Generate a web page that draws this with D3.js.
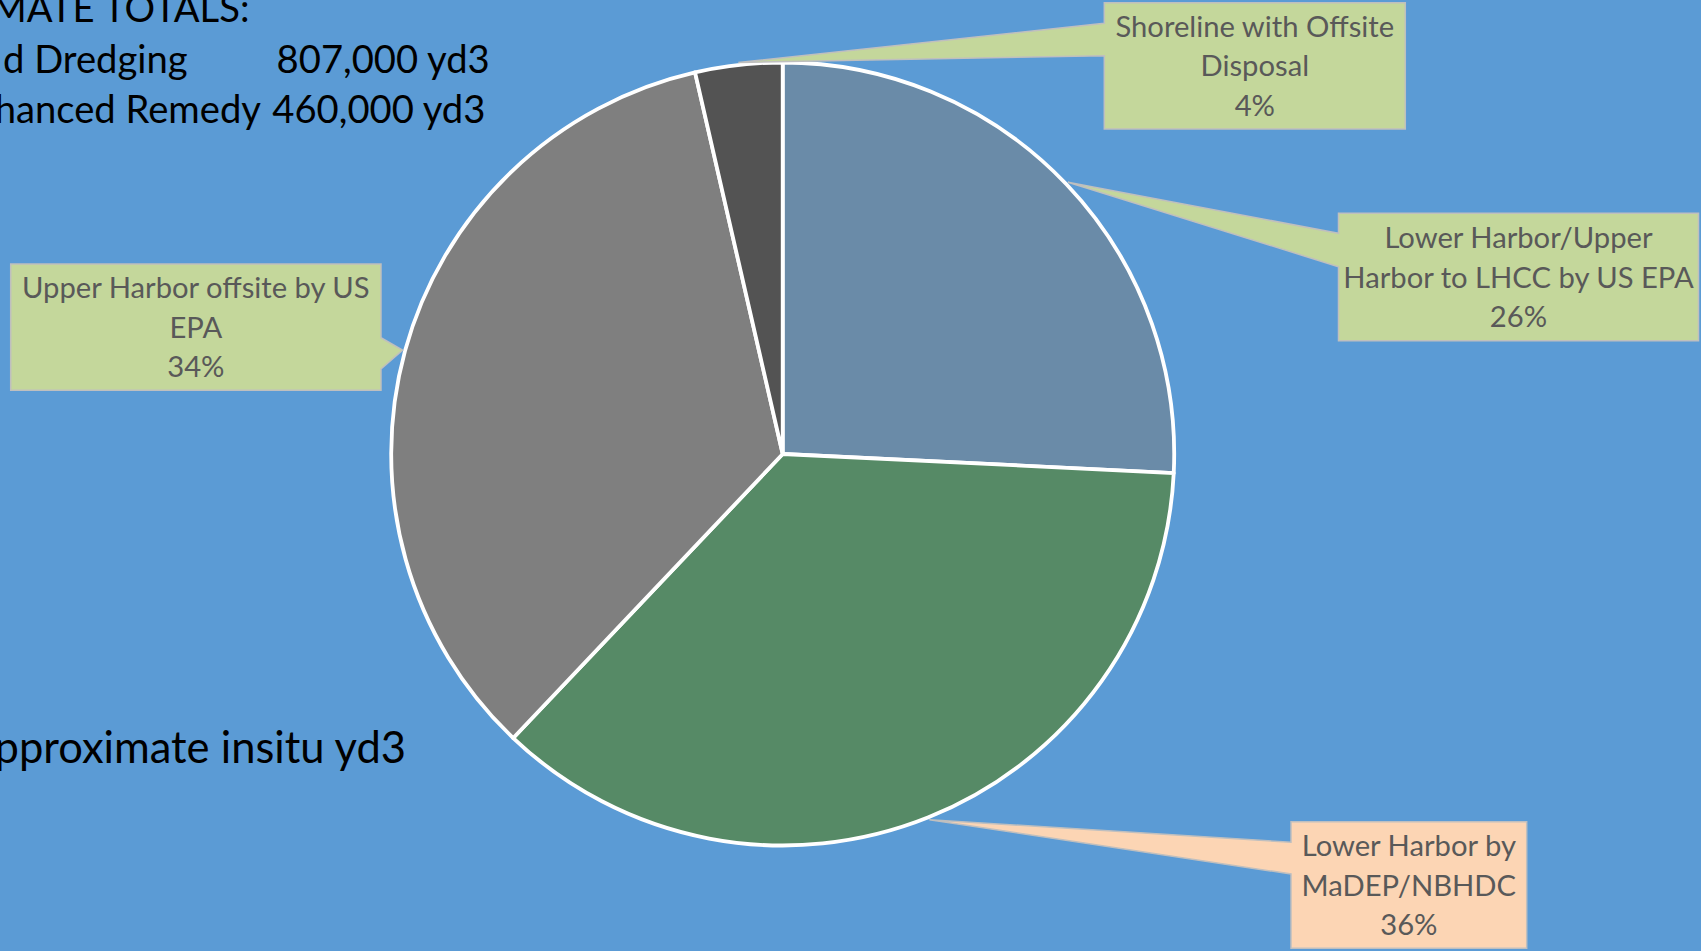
<!DOCTYPE html>
<html>
<head>
<meta charset="utf-8">
<script src="https://cdn.jsdelivr.net/npm/d3@7"></script>
<style>
  html, body { margin: 0; padding: 0; background: #5b9bd5; overflow: hidden; }
  svg { display: block; }
</style>
</head>
<body>
<svg id="chart" width="1701" height="951"></svg>
<script>
// ---------------- DATA ----------------
const categories = [
  "Lower Harbor/Upper Harbor to LHCC by US EPA",
  "Lower Harbor by MaDEP/NBHDC",
  "Upper Harbor offsite by US EPA",
  "Shoreline with Offsite Disposal"
];
const volumes = [208000, 293000, 277000, 29000];   // approximate insitu yd3
const labelLines = [
  ["Lower Harbor/Upper", "Harbor to LHCC by US EPA"],
  ["Lower Harbor by", "MaDEP/NBHDC"],
  ["Upper Harbor offsite by US", "EPA"],
  ["Shoreline with Offsite", "Disposal"]
];
const totalsHeading = "APPROXIMATE TOTALS:";
const totalsNames = ["d Dredging", "Enhanced Remedy"];
const totalsValues = ["807,000 yd3", "460,000 yd3"];
const unitNote = "Approximate insitu yd3";

// ---------------- STYLE / LAYOUT ----------------
const W = 1701, H = 951;
const cx = 782.7, cy = 454, R = 391.5;
const sliceColors = ["#6a8ba8", "#568a66", "#7f7f7f", "#535353"];
const boxFills = ["#c4d79b", "#fcd5b4", "#c4d79b", "#c4d79b"];
const boxLayout = [
  {x: 1338.5, y: 213.3, w: 360, h: 127.4, side: "left",  b0: 233.3, b1: 266.7},
  {x: 1291,   y: 821.7, w: 235.7, h: 126.6, side: "left",  b0: 842.3, b1: 874},
  {x: 10.7,   y: 264,   w: 370.3, h: 126.3, side: "right", b0: 337.7, b1: 369},
  {x: 1104.3, y: 2.7,   w: 301,   h: 126.3, side: "left",  b0: 23.3,  b1: 55.7}
];

const svg = d3.select("#chart");
svg.append("rect").attr("width", W).attr("height", H).attr("fill", "#5b9bd5");

const color = d3.scaleOrdinal().domain(categories).range(sliceColors);
const pie = d3.pie().sort(null).value(d => d.v);
const arcs = pie(categories.map((c, i) => ({c, v: volumes[i], i})));
const arc = d3.arc().innerRadius(0).outerRadius(R);
const total = d3.sum(volumes);
const pct = d3.format(".0%");

const g = svg.append("g").attr("transform", `translate(${cx},${cy})`);
g.selectAll("path.slice").data(arcs).join("path")
  .attr("class", "slice")
  .attr("d", arc)
  .attr("fill", d => color(d.data.c))
  .attr("stroke", "#ffffff")
  .attr("stroke-width", 3.8)
  .attr("stroke-linejoin", "round");

// ---------------- CALLOUT LABELS ----------------
const tipR = 394;
const callouts = svg.append("g");
arcs.forEach((d, i) => {
  const b = boxLayout[i];
  const a = (d.startAngle + d.endAngle) / 2;
  const tx = cx + tipR * Math.sin(a), ty = cy - tipR * Math.cos(a);
  const x0 = b.x, x1 = b.x + b.w, y0 = b.y, y1 = b.y + b.h;
  let p;
  if (b.side === "left") {
    p = `M${x0},${y0}L${x1},${y0}L${x1},${y1}L${x0},${y1}L${x0},${b.b1}L${tx},${ty}L${x0},${b.b0}Z`;
  } else {
    p = `M${x0},${y0}L${x1},${y0}L${x1},${b.b0}L${tx},${ty}L${x1},${b.b1}L${x1},${y1}L${x0},${y1}Z`;
  }
  callouts.append("path").attr("d", p)
    .attr("fill", boxFills[i]).attr("stroke", "#bfbfbf").attr("stroke-width", 1.5)
    .attr("stroke-linejoin", "miter");
  const lines = labelLines[i].concat([pct(d.data.v / total)]);
  const mx = b.x + b.w / 2, my = b.y + b.h / 2 + 10.5;
  const t = callouts.append("text")
    .attr("text-anchor", "middle")
    .attr("font-family", "Lato, 'Open Sans', sans-serif")
    .attr("font-size", 29.2)
    .attr("fill", "#595959");
  lines.forEach((ln, k) => {
    t.append("tspan").attr("x", mx).attr("y", my + (k - 1) * 39.2).text(ln);
  });
});

// ---------------- SUMMARY TEXT ----------------
const big = svg.append("g")
  .attr("font-family", "Lato, 'Open Sans', sans-serif")
  .attr("font-size", 38.2)
  .attr("fill", "#000000");
big.append("text").attr("x", 249.5).attr("y", 21.7).attr("text-anchor", "end").text(totalsHeading);
const nameEnds = [187.7, 261];
const valStarts = [276.6, 272.3];
const rowY = [72.7, 122.6];
totalsNames.forEach((n, i) => {
  big.append("text").attr("x", nameEnds[i]).attr("y", rowY[i]).attr("text-anchor", "end").text(n);
  big.append("text").attr("x", valStarts[i]).attr("y", rowY[i]).attr("text-anchor", "start").text(totalsValues[i]);
});
big.append("text").attr("x", 406).attr("y", 762.6).attr("text-anchor", "end")
  .attr("font-size", 43.5).text(unitNote);
</script>
</body>
</html>
